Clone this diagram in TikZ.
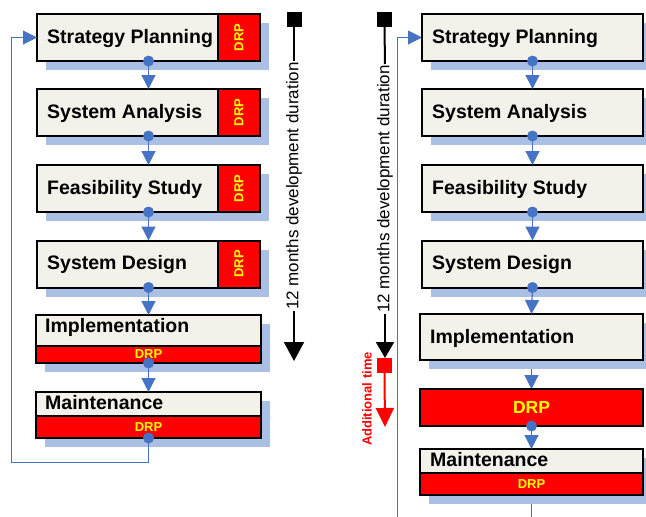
\documentclass[tikz,border=0pt]{standalone}
\usepackage{fontspec}
\setmainfont{Liberation Sans}
\usetikzlibrary{arrows.meta,shadows}

\definecolor{boxfill}{HTML}{F2F2EA}
\definecolor{shadowc}{HTML}{A9BFE3}
\definecolor{flowblue}{HTML}{4673C4}
\definecolor{drpred}{HTML}{FF0000}
\definecolor{drpyellow}{HTML}{FFFF00}

\pgfdeclarelayer{back}
\pgfsetlayers{back,main}

\tikzset{
  phase/.style={draw=black, line width=2pt, fill=boxfill, inner sep=0pt, outer sep=0pt,
    drop shadow={shadow xshift=9pt, shadow yshift=-9pt, fill=shadowc, opacity=1}},
  drpblock/.style={draw=black, line width=2pt, fill=drpred, inner sep=0pt, outer sep=0pt,
    text=drpyellow, font=\bfseries\fontsize{13}{14}\selectfont},
  phasetext/.style={inner sep=0pt, anchor=base west, font=\bfseries\fontsize{19.5}{22}\selectfont},
  flow/.style={draw=flowblue, line width=1.2pt, -{Triangle[width=14pt,length=14pt]}},
  loopline/.style={draw=flowblue, line width=1pt, -{Triangle[width=14pt,length=14pt]}},
  flowdot/.style={circle, fill=flowblue, inner sep=0pt, minimum size=11pt},
  marker/.style={inner sep=0pt, outer sep=0pt, minimum width=15pt, minimum height=15pt},
  durtext/.style={rotate=90, fill=white, inner xsep=1pt, inner ysep=0pt, font=\fontsize{17}{20}\selectfont},
  durline/.style={draw=black, line width=2pt},
  extraline/.style={draw=drpred, line width=2pt}
}

\begin{document}
\begin{tikzpicture}[x=1pt,y=-1pt]
\useasboundingbox (0,0) rectangle (646,517);
\clip (0,0) rectangle (646,517);

% ---------------- left column: DRP inside every phase ----------------
\node[phase, minimum width=223pt, minimum height=47pt] (spL) at (148.5,37.5) {};
\node[drpblock, rotate=90, minimum width=47pt, minimum height=42pt, anchor=south] (spLd) at (spL.east) {DRP};
\node[phasetext] (spLt) at (47,43) {Strategy Planning};

\node[phase, minimum width=223pt, minimum height=47pt] (saL) at (148.5,112.5) {};
\node[drpblock, rotate=90, minimum width=47pt, minimum height=42pt, anchor=south] (saLd) at (saL.east) {DRP};
\node[phasetext] (saLt) at (47,118) {System Analysis};

\node[phase, minimum width=223pt, minimum height=47pt] (fsL) at (148.5,188.5) {};
\node[drpblock, rotate=90, minimum width=47pt, minimum height=42pt, anchor=south] (fsLd) at (fsL.east) {DRP};
\node[phasetext] (fsLt) at (47,194) {Feasibility Study};

\node[phase, minimum width=223pt, minimum height=47pt] (sdL) at (148.5,264) {};
\node[drpblock, rotate=90, minimum width=47pt, minimum height=42pt, anchor=south] (sdLd) at (sdL.east) {DRP};
\node[phasetext] (sdLt) at (47,269) {System Design};

\node[phase, minimum width=225pt, minimum height=48pt] (imL) at (148.5,339) {};
\node[drpblock, minimum width=225pt, minimum height=17pt, anchor=south] (imLd) at (imL.south) {DRP};
\node[phasetext] (imLt) at (45,332) {Implementation};

\node[phase, minimum width=225pt, minimum height=46pt] (mnL) at (148.5,415) {};
\node[drpblock, minimum width=225pt, minimum height=22pt, anchor=south] (mnLd) at (mnL.south) {DRP};
\node[phasetext] (mnLt) at (45,409) {Maintenance};

% flow between the phases
\node[flowdot] (d1L) at (spL.south) {};
\node[flowdot] (d2L) at (saL.south) {};
\node[flowdot] (d3L) at (fsL.south) {};
\node[flowdot] (d4L) at (sdL.south) {};
\node[flowdot] (d5L) at (imL.south) {};
\node[flowdot] (d6L) at (mnL.south) {};
\draw[flow] (d1L.center) -- (saL.north);
\draw[flow] (d2L.center) -- (fsL.north);
\draw[flow] (d3L.center) -- (sdL.north);
\draw[flow] (d4L.center) -- (imL.north);
\draw[flow] (d5L.center) -- (mnL.north);
\coordinate (loopL) at (11,462);
\draw[loopline] (d6L.center) |- (loopL) |- (spL.west);

% duration bar
\node[marker, fill=black] (tsL) at (294,19.5) {};
\node[durtext] (tdL) at (294,186) {12 months development duration};
\coordinate (teL) at (294,361);
\draw[durline] (tsL.south) -- (tdL.east);
\draw[durline, -{Triangle[width=20pt,length=19pt]}] (tdL.west) -- (teL);

% ---------------- right column: DRP as a separate phase ----------------
\node[phase, minimum width=221pt, minimum height=47pt] (spR) at (532.5,37.5) {};
\node[phasetext] (spRt) at (432,43) {Strategy Planning};

\node[phase, minimum width=221pt, minimum height=47pt] (saR) at (532.5,112.5) {};
\node[phasetext] (saRt) at (432,118) {System Analysis};

\node[phase, minimum width=221pt, minimum height=47pt] (fsR) at (532.5,188.5) {};
\node[phasetext] (fsRt) at (432,194) {Feasibility Study};

\node[phase, minimum width=221pt, minimum height=47pt] (sdR) at (532.5,264) {};
\node[phasetext] (sdRt) at (432,269) {System Design};

\node[phase, minimum width=223pt, minimum height=46pt] (imR) at (531.5,337) {};
\node[phasetext] (imRt) at (430,343) {Implementation};

\node[drpblock, minimum width=223pt, minimum height=37pt, font=\bfseries\fontsize{17.5}{19}\selectfont] (drR) at (531.5,407.5) {DRP};

\node[phase, minimum width=223pt, minimum height=46pt] (mnR) at (531.5,472) {};
\node[drpblock, minimum width=223pt, minimum height=22pt, anchor=south] (mnRd) at (mnR.south) {DRP};
\node[phasetext] (mnRt) at (430,466) {Maintenance};

\node[flowdot] (d1R) at (spR.south) {};
\node[flowdot] (d2R) at (saR.south) {};
\node[flowdot] (d3R) at (fsR.south) {};
\node[flowdot] (d4R) at (sdR.south) {};
\node[flowdot] (d5R) at (drR.south) {};
\draw[flow] (d1R.center) -- (saR.north);
\draw[flow] (d2R.center) -- (fsR.north);
\draw[flow] (d3R.center) -- (sdR.north);
\draw[flow] (d4R.center) -- (imR.north);
\draw[flow] (d5R.center) -- (mnR.north);
\coordinate (loopR) at (397,530);
\begin{pgfonlayer}{back}
  \draw[flow] (imR.south) -- (drR.north);
  \draw[loopline] (mnR.south) |- (loopR) |- (spR.west);
\end{pgfonlayer}

% duration bar with the added time
\node[marker, fill=black] (tsR) at (384.5,19.5) {};
\node[durtext] (tdR) at (385,189) {12 months development duration};
\coordinate (teR) at (385,358);
\draw[durline] (tsR.south) -- (tdR.east);
\draw[durline, -{Triangle[width=18pt,length=16pt]}] (tdR.west) -- (teR);
\node[marker, fill=drpred] (asR) at (384.5,365.5) {};
\coordinate (aeR) at (385,427);
\draw[extraline, -{Triangle[width=18pt,length=19pt]}] (asR.south) -- (aeR);
\node[rotate=90, inner sep=0pt, text=drpred, font=\bfseries\fontsize{13}{14}\selectfont] (atR) at (367,399) {Additional time};
\end{tikzpicture}
\end{document}
